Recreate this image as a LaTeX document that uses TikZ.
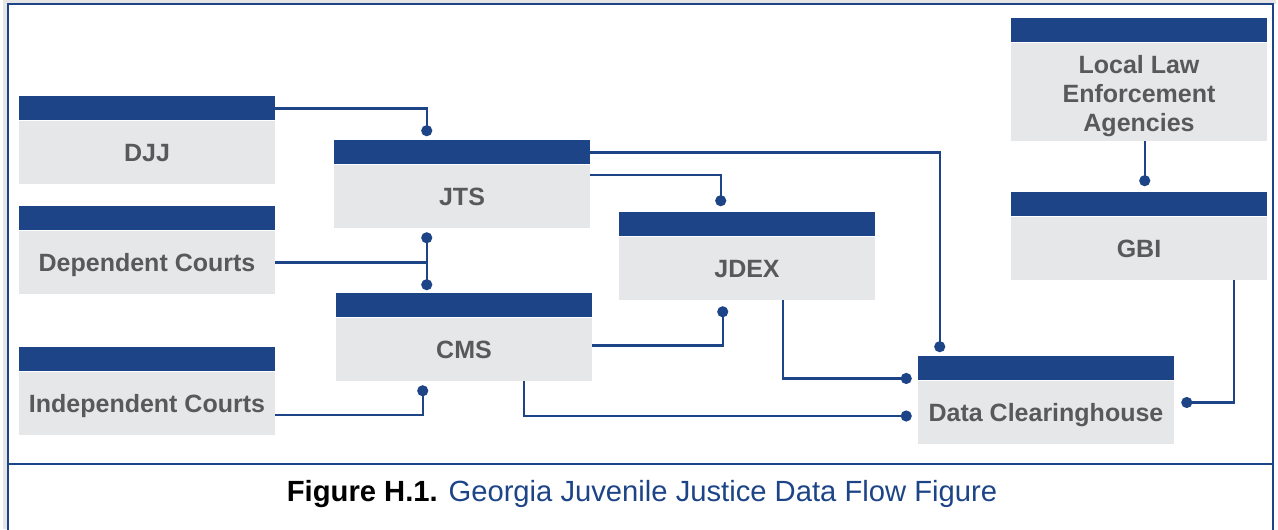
\documentclass[tikz,border=0pt]{standalone}
\usepackage{fontspec}
\setmainfont{Liberation Sans}
\usepackage{tikz}
\usetikzlibrary{positioning,calc,arrows.meta}

\definecolor{hdblue}{HTML}{1D4487}
\definecolor{cellgray}{HTML}{E6E7E8}
\definecolor{txtgray}{HTML}{58595B}

\begin{document}
\begin{tikzpicture}[x=0.75pt,y=0.75pt,yscale=-1,
  bar/.style={fill=hdblue, minimum width=192pt, minimum height=18pt, inner sep=0pt},
  cell/.style={fill=cellgray, minimum width=192pt, minimum height=47.25pt, inner sep=0pt,
    text height=13.5pt, text depth=0pt,
    text=txtgray, font=\bfseries\fontsize{18.75}{21.75}\selectfont, align=center},
  link/.style={draw=hdblue, line width=1.8pt},
  ball/.style={-{Circle[length=8.25pt]}},
  balls/.style={{Circle[length=8.25pt]}-{Circle[length=8.25pt]}}]
%set diagram size
\useasboundingbox (0,0) rectangle (1278,529);
\draw[black!10, line width=3pt] (5,529) -- (5,2) -- (1276,2);

%Frame
\draw[hdblue, line width=1.6pt] (8,535) -- (8,4) -- (1273,4) -- (1273,535);
\draw[hdblue, line width=1.6pt] (8,464) -- (1273,464);

%Boxes
\node[cell] (djj) at (147,152.5) {DJJ};
\node[bar, above=0pt of djj] (djjbar) {};
\node[cell] (dep) at (147,262.5) {Dependent Courts};
\node[bar, above=0pt of dep] (depbar) {};
\node[cell] (ic) at (147,403) {Independent Courts};
\node[bar, above=0pt of ic] (icbar) {};
\node[cell] (jts) at (462,196.5) {JTS};
\node[bar, above=0pt of jts] (jtsbar) {};
\node[cell] (cms) at (464,349.5) {CMS};
\node[bar, above=0pt of cms] (cmsbar) {};
\node[cell] (jdex) at (747,268.5) {JDEX};
\node[bar, above=0pt of jdex] (jdexbar) {};
\node[cell] (dc) at (1046,412.5) {Data Clearinghouse};
\node[bar, above=0pt of dc] (dcbar) {};
\node[cell, minimum height=73.5pt, text height=59pt] (lle) at (1139,92) {Local Law\\Enforcement\\Agencies};
\node[bar, above=0pt of lle] (llebar) {};
\node[cell] (gbi) at (1139,248.5) {GBI};
\node[bar, above=0pt of gbi] (gbibar) {};

%Connectors
\draw[link,ball] (djjbar.east) -| ($(jtsbar.north west)+(93,-4)$);
\draw[link,ball] (jtsbar.east) -| ($(dcbar.north west)+(22,-4)$);
\draw[link,ball] ([yshift=7.5pt]jts.north east) -| ($(jdexbar.north west)+(102,-6)$);
\draw[link,balls] ($(jts.south west)+(93,4)$) coordinate (jtsdot) -- ($(cmsbar.north west)+(91,-3)$);
\draw[link] (dep.east) -- (dep.east -| jtsdot);
\draw[link,ball] ([yshift=-3pt]cms.east) -| ($(jdex.south west)+(104,6)$);
\draw[link,ball] ([yshift=9pt]ic.east) -| ($(cms.south west)+(87,4)$);
\draw[link,ball] ($(cms.south west)+(188,0)$) |- ($(dc.west)+(-6,3.5)$);
\draw[link,ball] ($(jdex.south west)+(164,0)$) |- ($(dcbar.west)+(-6,10)$);
\draw[link,ball] ($(lle.south west)+(134,0)$) -- ($(gbibar.north west)+(134,-6)$);
\draw[link,ball] ($(gbi.south west)+(223,0)$) |- ($(dc.east)+(7,-10)$);

%Caption
\node[font=\fontsize{21.9}{26}\selectfont] (caption) at (642,494)
  {\textbf{Figure H.1.} \textcolor{hdblue}{Georgia Juvenile Justice Data Flow Figure}};

\end{tikzpicture}
\end{document}
